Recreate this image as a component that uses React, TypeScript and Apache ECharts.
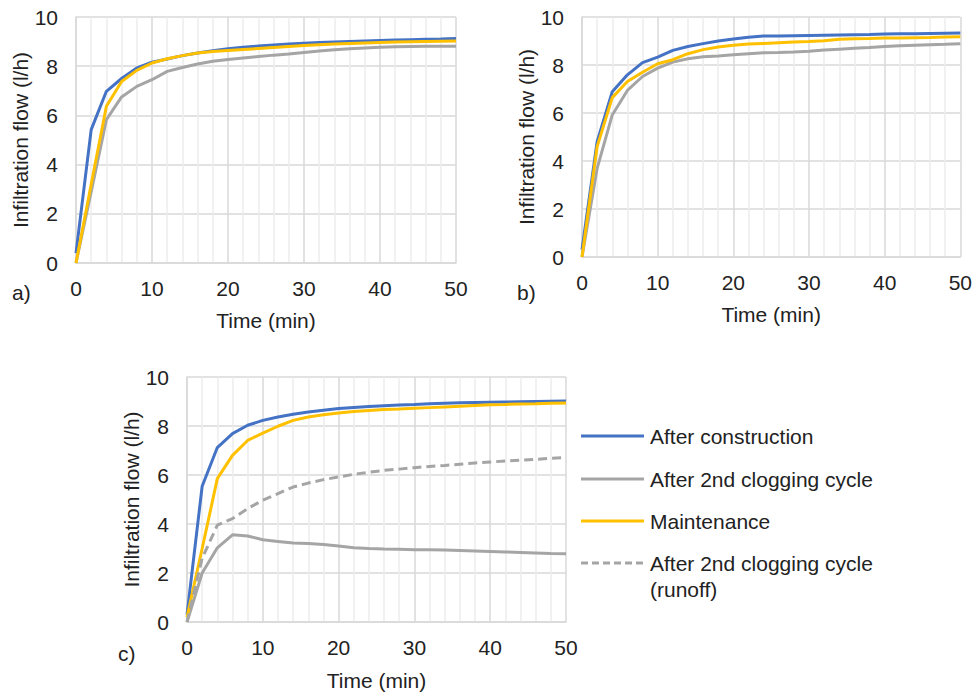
import React, { useEffect, useRef } from "react";
import * as echarts from "echarts";

const timeMin = [0, 2, 4, 6, 8, 10, 12, 14, 16, 18, 20, 22, 24, 26, 28, 30, 32, 34, 36, 38, 40, 42, 44, 46, 48, 50];

const seriesNames = [
  "After construction",
  "After 2nd clogging cycle",
  "Maintenance",
  "After 2nd clogging cycle (runoff)",
];

// Panel a
const aConstruction = [0.4, 5.42, 6.98, 7.5, 7.93, 8.16, 8.29, 8.43, 8.54, 8.63, 8.71, 8.77, 8.82, 8.86, 8.9, 8.93, 8.96, 8.98, 9.0, 9.02, 9.04, 9.06, 9.08, 9.1, 9.11, 9.13];
const aClogging = [0, 2.9, 5.83, 6.75, 7.18, 7.45, 7.79, 7.95, 8.09, 8.2, 8.27, 8.33, 8.39, 8.45, 8.5, 8.56, 8.62, 8.67, 8.71, 8.74, 8.77, 8.79, 8.8, 8.81, 8.81, 8.81];
const aMaintenance = [0, 3.2, 6.37, 7.38, 7.83, 8.13, 8.3, 8.43, 8.54, 8.6, 8.64, 8.68, 8.72, 8.76, 8.8, 8.84, 8.87, 8.9, 8.92, 8.94, 8.96, 8.98, 8.99, 9.0, 9.01, 9.02];

// Panel b
const bConstruction = [0.3, 4.8, 6.89, 7.59, 8.1, 8.33, 8.61, 8.77, 8.89, 9.0, 9.08, 9.16, 9.21, 9.21, 9.22, 9.23, 9.24, 9.25, 9.26, 9.27, 9.29, 9.3, 9.3, 9.31, 9.32, 9.33];
const bClogging = [0, 3.69, 5.92, 6.94, 7.52, 7.87, 8.12, 8.26, 8.34, 8.38, 8.43, 8.47, 8.51, 8.52, 8.54, 8.57, 8.62, 8.66, 8.7, 8.73, 8.77, 8.8, 8.82, 8.84, 8.86, 8.89];
const bMaintenance = [0, 4.6, 6.64, 7.31, 7.7, 8.05, 8.22, 8.47, 8.64, 8.75, 8.82, 8.87, 8.9, 8.93, 8.96, 8.98, 9.01, 9.07, 9.09, 9.1, 9.12, 9.13, 9.14, 9.15, 9.17, 9.18];

// Panel c
const cConstruction = [0.3, 5.54, 7.12, 7.69, 8.03, 8.23, 8.37, 8.48, 8.57, 8.64, 8.71, 8.76, 8.8, 8.83, 8.86, 8.88, 8.91, 8.93, 8.95, 8.96, 8.97, 8.98, 8.99, 9.0, 9.01, 9.02];
const cClogging = [0, 2.0, 3.03, 3.56, 3.51, 3.36, 3.29, 3.22, 3.2, 3.16, 3.1, 3.03, 3.0, 2.98, 2.97, 2.95, 2.95, 2.94, 2.92, 2.9, 2.88, 2.86, 2.84, 2.82, 2.8, 2.79];
const cMaintenance = [0.2, 3.0, 5.85, 6.8, 7.41, 7.71, 7.99, 8.23, 8.37, 8.46, 8.53, 8.59, 8.63, 8.67, 8.69, 8.72, 8.75, 8.78, 8.81, 8.84, 8.87, 8.88, 8.9, 8.91, 8.93, 8.94];
const cRunoff = [0, 2.6, 3.95, 4.22, 4.63, 4.97, 5.24, 5.51, 5.67, 5.81, 5.92, 6.03, 6.11, 6.19, 6.24, 6.3, 6.35, 6.39, 6.44, 6.49, 6.53, 6.57, 6.6, 6.64, 6.68, 6.71];

const panelLabels = ["a)", "b)", "c)"];
const xAxisName = "Time (min)";
const yAxisName = "Infiltration flow (l/h)";

const COLORS = ["#4472C4", "#A5A5A5", "#FFC000", "#A5A5A5"];
const FONT = "'Liberation Sans', Arial, sans-serif";
const TEXT = "#222222";
const FS = 21;

export default function App() {
  const ref = useRef<HTMLDivElement>(null);

  useEffect(() => {
    document.body.style.margin = "0";
    if (!ref.current) return;
    const chart = echarts.init(ref.current, undefined, { renderer: "svg" });

    const grids = [
      { left: 76, top: 17, width: 380, height: 246 },
      { left: 582, top: 17, width: 379, height: 240 },
      { left: 187, top: 377, width: 379, height: 245 },
    ];

    const xAxes = grids.map((_, i) => ({
      type: "value",
      gridIndex: i,
      min: 0,
      max: 50,
      interval: 10,
      name: xAxisName,
      nameLocation: "middle",
      nameGap: i === 2 ? 48 : 47,
      nameTextStyle: { fontFamily: FONT, fontSize: FS, color: TEXT },
      axisLine: { show: true, lineStyle: { color: "#d9d9d9", width: 1.5 } },
      axisTick: { show: false },
      axisLabel: { fontFamily: FONT, fontSize: FS, color: TEXT, margin: 15 },
      splitLine: { show: true, lineStyle: { color: "#d9d9d9", width: 1.5 } },
      minorTick: { show: false, splitNumber: 5 },
      minorSplitLine: { show: true, lineStyle: { color: "#ececec", width: 1.5 } },
    }));

    const yAxes = grids.map((_, i) => ({
      type: "value",
      gridIndex: i,
      min: 0,
      max: 10,
      interval: 2,
      name: yAxisName,
      nameLocation: "middle",
      nameGap: i === 2 ? 44 : 41,
      nameTextStyle: { fontFamily: FONT, fontSize: FS, color: TEXT },
      axisLine: { show: true, lineStyle: { color: "#d9d9d9", width: 1.5 } },
      axisTick: { show: false },
      axisLabel: { fontFamily: FONT, fontSize: FS, color: TEXT, margin: 18 },
      splitLine: { show: true, lineStyle: { color: "#d9d9d9", width: 1.5 } },
    }));

    const pair = (ys: number[]) => timeMin.map((t, k) => [t, ys[k]]);
    const mk = (name: string, data: number[], idx: number, colorIdx: number, dashed = false) => ({
      type: "line",
      name,
      xAxisIndex: idx,
      yAxisIndex: idx,
      data: pair(data),
      showSymbol: false,
      symbol: "none",
      lineStyle: { color: COLORS[colorIdx], width: 3, type: dashed ? [9, 5] : "solid" },
      itemStyle: { color: COLORS[colorIdx] },
    });

    const series = [
      mk(seriesNames[0], aConstruction, 0, 0),
      mk(seriesNames[1], aClogging, 0, 1),
      mk(seriesNames[2], aMaintenance, 0, 2),
      mk(seriesNames[0], bConstruction, 1, 0),
      mk(seriesNames[1], bClogging, 1, 1),
      mk(seriesNames[2], bMaintenance, 1, 2),
      mk(seriesNames[0], cConstruction, 2, 0),
      mk(seriesNames[1], cClogging, 2, 1),
      mk(seriesNames[2], cMaintenance, 2, 2),
      mk(seriesNames[3], cRunoff, 2, 3, true),
    ];

    const legendRows = [
      { y: 436, name: "After construction", color: COLORS[0], dash: false },
      { y: 479, name: "After 2nd clogging cycle", color: COLORS[1], dash: false },
      { y: 521, name: "Maintenance", color: COLORS[2], dash: false },
      { y: 563, name: "After 2nd clogging cycle\n(runoff)", color: COLORS[3], dash: true },
    ];

    const graphic: any[] = [];
    legendRows.forEach((r) => {
      graphic.push({
        type: "line",
        shape: { x1: 581, y1: r.y, x2: 644, y2: r.y },
        style: { stroke: r.color, lineWidth: 3, lineDash: r.dash ? [7, 4] : null },
      });
      graphic.push({
        type: "text",
        x: 650,
        y: r.y - 13,
        style: { text: r.name, font: `${FS}px ${FONT}`, fill: TEXT, lineHeight: 26, textVerticalAlign: "top" },
      });
    });
    const labelPos = [
      { x: 12, y: 292 },
      { x: 517, y: 292 },
      { x: 118, y: 653 },
    ];
    panelLabels.forEach((t, i) => {
      graphic.push({
        type: "text",
        x: labelPos[i].x,
        y: labelPos[i].y,
        style: { text: t, font: `${FS}px ${FONT}`, fill: TEXT, textVerticalAlign: "middle" },
      });
    });

    chart.setOption({
      animation: false,
      backgroundColor: "#ffffff",
      grid: grids,
      xAxis: xAxes,
      yAxis: yAxes,
      series,
      graphic,
    });

    return () => chart.dispose();
  }, []);

  return <div ref={ref} style={{ width: 975, height: 692 }} />;
}
